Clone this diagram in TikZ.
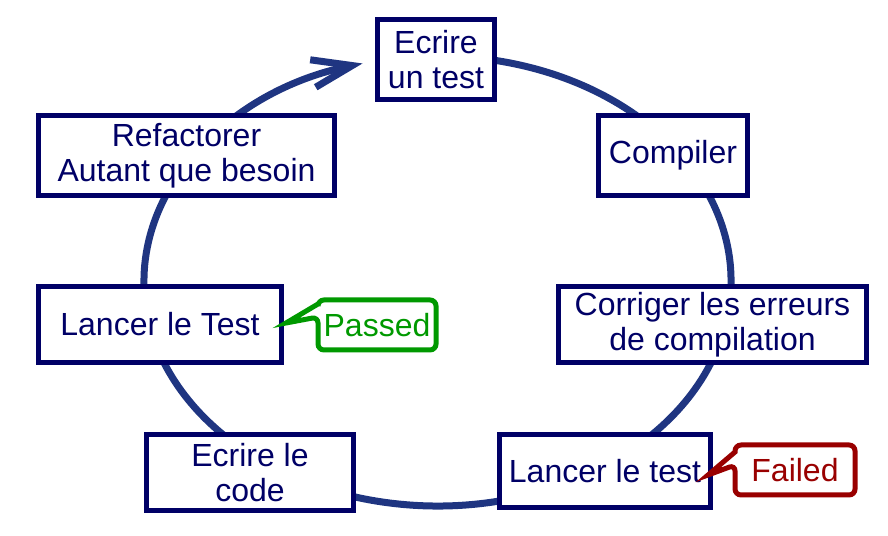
\documentclass[tikz,border=0pt]{standalone}
\usepackage{fontspec}
\setmainfont{Liberation Sans}
\usetikzlibrary{arrows.meta}
\definecolor{boxblue}{HTML}{000066}
\definecolor{ringblue}{HTML}{1F3581}
\definecolor{passgreen}{HTML}{009900}
\definecolor{failred}{HTML}{990000}

\begin{document}
\begin{tikzpicture}[x=1pt, y=1pt,
		stage/.style = {draw = boxblue, line width = 5pt, fill = white, text = boxblue,
			align = center, inner sep = 0pt, font = \fontsize{32}{35.5}\selectfont},
		bubble/.style = {line width = 5pt, fill = white}]
			\def\rx{293.5};
			\def\ry{225};

			\useasboundingbox (0,0) rectangle (888,535);
			\coordinate (c) at (437.5,254);

			\draw [ringblue, line width = 7pt, -{Straight Barb[length = 40pt, width = 28pt]}]
				([shift = {(80:\rx pt and \ry pt)}]c) arc [start angle = 80, end angle = -255.2, x radius = \rx, y radius = \ry];

			\node [stage, minimum width = 117pt, minimum height = 80pt] (write) at (436,475.5) {Ecrire\\un test};
			\node [stage, minimum width = 149pt, minimum height = 80pt] (compile) at (673,379.5) {Compiler};
			\node [stage, minimum width = 308pt, minimum height = 76pt] (fix) at (712.5,210.5) {Corriger les erreurs\\de compilation};
			\node [stage, minimum width = 211pt, minimum height = 73pt] (run) at (605,64) {Lancer le test};
			\node [stage, minimum width = 207pt, minimum height = 76pt] (code) at (250,62.5) {Ecrire le\\code};
			\node [stage, minimum width = 243pt, minimum height = 76pt] (runall) at (160,210.5) {Lancer le Test};
			\node [stage, minimum width = 296pt, minimum height = 80pt] (refactor) at (186.5,379.5) {Refactorer\\Autant que besoin};

			\draw [bubble, draw = passgreen]
				(286,212) -- (318,231) [rounded corners = 6pt] |- (436,235) |- (318,185) -- (318,218) [sharp corners] -- cycle;
			\node [text = passgreen, font = \fontsize{32}{35.5}\selectfont] (passed) at (377,210) {Passed};

			\draw [bubble, draw = failred]
				(708,60) -- (735,83) [rounded corners = 6pt] |- (855,90) |- (735,40) -- (735,70) [sharp corners] -- cycle;
			\node [text = failred, font = \fontsize{32}{35.5}\selectfont] (failed) at (795,65) {Failed};
		\end{tikzpicture}
\end{document}
